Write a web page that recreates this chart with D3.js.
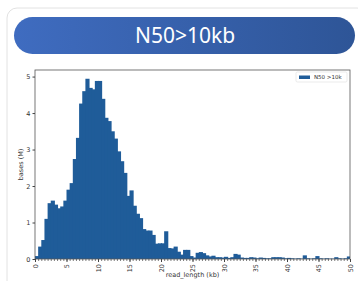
<!DOCTYPE html>
<html>
<head>
<meta charset="utf-8">
<script src="https://cdn.jsdelivr.net/npm/d3@7"></script>
<style>
	body { margin: 0; background: #fff; overflow: hidden; }
	svg { display: block; }
</style>
</head>
<body>
<div id="chart"></div>
<script>
// histogram bins, 0.5 kb wide, starting at 0 kb
const binWidth = 0.5;
const basesM = [
	0.08, 0.34, 0.52, 1.10, 1.53, 1.60, 1.49, 1.39, 1.44, 1.60,
	1.90, 2.08, 2.74, 3.32, 4.26, 4.60, 4.94, 4.69, 4.65, 4.88,
	4.88, 4.39, 3.87, 3.78, 3.50, 3.30, 2.95, 2.68, 2.36, 1.73,
	1.88, 1.46, 1.24, 1.12, 0.82, 0.78, 0.78, 0.66, 0.42, 0.43,
	0.43, 0.76, 0.30, 0.29, 0.34, 0.20, 0.12, 0.25, 0.25, 0.08,
	0.04, 0.17, 0.19, 0.16, 0.10, 0.07, 0.09, 0.05, 0.05, 0.04,
	0.06, 0.03, 0.05, 0.14, 0.12, 0.04, 0.03, 0.03, 0.05, 0.04,
	0.02, 0.04, 0.03, 0.02, 0.02, 0.05, 0.05, 0.05, 0.04, 0.02,
	0.03, 0.02, 0.01, 0.02, 0.01, 0.10, 0.02, 0.01, 0.02, 0.08,
	0.02, 0.01, 0.02, 0.01, 0.01, 0.05, 0.02, 0.01, 0.02, 0.07
];
const xTicks = [0, 5, 10, 15, 20, 25, 30, 35, 40, 45, 50];
const yTicks = [0, 1, 2, 3, 4, 5];
const titleText = "N50>10kb";
const legendLabel = "N50 >10k";

const W = 358, H = 281;
const barColor = "#1f5c99";

const svg = d3.select("#chart").append("svg")
	.attr("width", W)
	.attr("height", H);

const defs = svg.append("defs");
const grad = defs.append("linearGradient").attr("id", "pill");
grad.append("stop").attr("offset", "0%").attr("stop-color", "#3f6cc0");
grad.append("stop").attr("offset", "100%").attr("stop-color", "#2e5597");

// card
svg.append("rect")
	.attr("x", 7).attr("y", 8)
	.attr("width", 360).attr("height", 290)
	.attr("rx", 10)
	.attr("fill", "#fff")
	.attr("stroke", "#e2e2e2");

// title pill
svg.append("rect")
	.attr("x", 14).attr("y", 17)
	.attr("width", 341).attr("height", 37)
	.attr("rx", 18.5)
	.attr("fill", "url(#pill)");

svg.append("text")
	.attr("x", 185).attr("y", 43)
	.attr("text-anchor", "middle")
	.attr("fill", "#fff")
	.style("font-family", "'Noto Sans', 'Open Sans', sans-serif")
	.style("font-size", "21px")
	.text(titleText);

// plot area
const plot = { left: 35, right: 350, top: 70, bottom: 259 };

const x = d3.scaleLinear()
	.domain([0, 50])
	.range([plot.left, plot.right]);

const y = d3.scaleLinear()
	.domain([0, 5.18])
	.range([plot.bottom, plot.top]);

const g = svg.append("g");

g.selectAll("rect.bar")
	.data(basesM)
	.enter()
	.append("rect")
	.attr("class", "bar")
	.attr("x", (d, i) => x(i * binWidth))
	.attr("width", (d, i) => x((i + 1) * binWidth) - x(i * binWidth) + (i < basesM.length - 1 ? 1 : 0))
	.attr("y", d => y(d))
	.attr("height", d => y(0) - y(d))
	.attr("fill", barColor);

// frame
g.append("rect")
	.attr("x", plot.left).attr("y", plot.top)
	.attr("width", plot.right - plot.left)
	.attr("height", plot.bottom - plot.top)
	.attr("fill", "none")
	.attr("stroke", "#555")
	.attr("stroke-width", 0.8);

const tickFont = "'DejaVu Sans', sans-serif";

// y axis
const yAxis = svg.append("g")
	.attr("transform", `translate(${plot.left},0)`)
	.call(d3.axisLeft(y).tickValues(yTicks).tickFormat(d3.format("d")).tickSize(2.5).tickPadding(2));
yAxis.select(".domain").remove();
yAxis.selectAll("line").attr("stroke", "#444");
yAxis.selectAll("text")
	.style("font-family", tickFont)
	.style("font-size", "6.5px")
	.attr("fill", "#333");

// minor x ticks at every bin edge
const minor = d3.range(0, 50.01, binWidth);
const xMinor = svg.append("g")
	.attr("transform", `translate(0,${plot.bottom})`)
	.call(d3.axisBottom(x).tickValues(minor).tickSize(2).tickFormat(""));
xMinor.select(".domain").remove();
xMinor.selectAll("line").attr("stroke", "#444").attr("stroke-width", 0.7);

// major x ticks, labels rotated
const xAxis = svg.append("g")
	.attr("transform", `translate(0,${plot.bottom})`)
	.call(d3.axisBottom(x).tickValues(xTicks).tickSize(3));
xAxis.select(".domain").remove();
xAxis.selectAll("line").attr("stroke", "#444");
xAxis.selectAll("text")
	.style("font-family", tickFont)
	.style("font-size", "6.5px")
	.attr("fill", "#333")
	.attr("text-anchor", "end")
	.attr("dy", "0.32em")
	.attr("transform", "translate(0,3) rotate(-90)")
	.attr("x", -2)
	.attr("y", 0);

// axis labels
svg.append("text")
	.attr("x", (plot.left + plot.right) / 2)
	.attr("y", 277)
	.attr("text-anchor", "middle")
	.style("font-family", tickFont)
	.style("font-size", "6.5px")
	.attr("fill", "#333")
	.text("read_length (kb)");

svg.append("text")
	.attr("transform", `translate(23,${(plot.top + plot.bottom) / 2}) rotate(-90)`)
	.attr("text-anchor", "middle")
	.style("font-family", tickFont)
	.style("font-size", "6.5px")
	.attr("fill", "#333")
	.text("bases (M)");

// legend
const legend = svg.append("g").attr("transform", "translate(296,72)");
legend.append("rect")
	.attr("width", 51).attr("height", 10)
	.attr("fill", "#fff")
	.attr("stroke", "#ddd")
	.attr("stroke-width", 0.6)
	.attr("rx", 1.5);
legend.append("rect")
	.attr("x", 3).attr("y", 3.5)
	.attr("width", 11).attr("height", 3.5)
	.attr("fill", barColor);
legend.append("text")
	.attr("x", 18).attr("y", 7.3)
	.style("font-family", tickFont)
	.style("font-size", "5.5px")
	.attr("fill", "#333")
	.text(legendLabel);
</script>
</body>
</html>
